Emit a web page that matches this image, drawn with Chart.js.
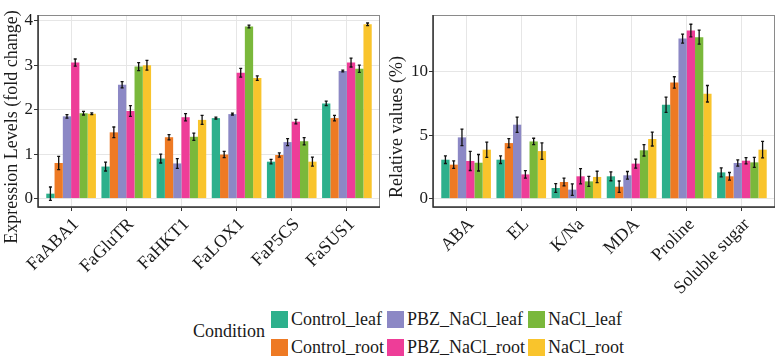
<!DOCTYPE html>
<html>
<head>
<meta charset="utf-8">
<script src="https://cdn.jsdelivr.net/npm/chart.js@4"></script>
<style>
  body { margin: 0; background: #fff; width: 777px; height: 358px; position: relative; overflow: hidden; font-family: "Liberation Serif", "DejaVu Serif", serif; }
  #leftWrap { position: absolute; left: 0; top: 0; }
  #rightWrap { position: absolute; left: 385px; top: 0; }
  #condTitle { position: absolute; left: 193px; top: 321px; font-size: 18px; color: #1a1a1a; }
  #legend { position: absolute; left: 271px; top: 311px; display: grid; grid-template-rows: 17px 17px; grid-auto-flow: column; row-gap: 11px; column-gap: 3px; }
  .item { display: flex; align-items: center; font-size: 18px; color: #1a1a1a; white-space: nowrap; }
  .box { width: 17px; height: 17px; margin-right: 3px; }
</style>
</head>
<body>
<div id="leftWrap"><canvas id="geneChart" width="385" height="300"></canvas></div>
<div id="rightWrap"><canvas id="physChart" width="392" height="300"></canvas></div>
<div id="condTitle">Condition</div>
<div id="legend"></div>
<script>
// conditions, in bar order
const conditions = ['Control_leaf', 'Control_root', 'PBZ_NaCl_leaf', 'PBZ_NaCl_root', 'NaCl_leaf', 'NaCl_root'];
const colors = ['#2db08c', '#ee7a24', '#8c88c5', '#ee3d98', '#7ab83b', '#f9c42c'];

// left panel: gene expression
const genes = ['FaABA1', 'FaGluTR', 'FaHKT1', 'FaLOX1', 'FaP5CS', 'FaSUS1'];
const geneTicks = [0, 1, 2, 3, 4];
const geneControlLeaf = [0.11, 0.72, 0.90, 1.81, 0.83, 2.14];
const geneControlRoot = [0.80, 1.49, 1.38, 0.99, 0.98, 1.81];
const genePbzLeaf = [1.85, 2.56, 0.79, 1.90, 1.27, 2.87];
const genePbzRoot = [3.06, 1.97, 1.83, 2.83, 1.73, 3.06];
const geneNaclLeaf = [1.92, 2.97, 1.39, 3.87, 1.29, 2.92];
const geneNaclRoot = [1.91, 3.00, 1.77, 2.71, 0.83, 3.92];
const geneControlLeafErr = [0.15, 0.10, 0.10, 0.02, 0.05, 0.05];
const geneControlRootErr = [0.15, 0.12, 0.06, 0.07, 0.05, 0.06];
const genePbzLeafErr = [0.04, 0.07, 0.11, 0.02, 0.08, 0.02];
const genePbzRootErr = [0.08, 0.12, 0.08, 0.10, 0.05, 0.10];
const geneNaclLeafErr = [0.04, 0.09, 0.08, 0.03, 0.08, 0.08];
const geneNaclRootErr = [0.02, 0.11, 0.10, 0.05, 0.10, 0.03];

// right panel: physiological traits
const traits = ['ABA', 'EL', 'K/Na', 'MDA', 'Proline', 'Soluble sugar'];
const traitTicks = [0, 5, 10];
const traitControlLeaf = [3.07, 3.07, 0.84, 1.76, 7.40, 2.07];
const traitControlRoot = [2.68, 4.38, 1.31, 0.94, 9.16, 1.76];
const traitPbzLeaf = [4.83, 5.83, 0.71, 1.84, 12.62, 2.81];
const traitPbzRoot = [2.97, 1.91, 1.76, 2.76, 13.25, 2.99];
const traitNaclLeaf = [2.83, 4.51, 1.36, 3.81, 12.73, 2.86];
const traitNaclRoot = [3.86, 3.75, 1.71, 4.70, 8.27, 3.86];
const traitControlLeafErr = [0.30, 0.30, 0.35, 0.35, 0.60, 0.35];
const traitControlRootErr = [0.30, 0.35, 0.30, 0.45, 0.45, 0.30];
const traitPbzLeafErr = [0.65, 0.60, 0.45, 0.30, 0.35, 0.25];
const traitPbzRootErr = [0.75, 0.30, 0.60, 0.35, 0.50, 0.25];
const traitNaclLeafErr = [0.65, 0.25, 0.40, 0.45, 0.55, 0.40];
const traitNaclRootErr = [0.60, 0.65, 0.45, 0.55, 0.65, 0.65];

const FONT = '"Liberation Serif", "DejaVu Serif", serif';

// error bars drawn from the y scale
const errorBars = {
    id: 'errorBars',
    afterDatasetsDraw(chart) {
        const ctx = chart.ctx;
        const y = chart.scales.y;
        ctx.save();
        ctx.strokeStyle = '#111';
        ctx.lineWidth = 1.3;
        chart.data.datasets.forEach((ds, di) => {
            const meta = chart.getDatasetMeta(di);
            meta.data.forEach((bar, i) => {
                const v = ds.data[i].y;
                const e = ds.errors[i];
                const top = y.getPixelForValue(v + e);
                const bot = y.getPixelForValue(v - e);
                ctx.beginPath();
                ctx.moveTo(bar.x, top);
                ctx.lineTo(bar.x, bot);
                ctx.moveTo(bar.x - 1.5, top);
                ctx.lineTo(bar.x + 1.5, top);
                ctx.moveTo(bar.x - 1.5, bot);
                ctx.lineTo(bar.x + 1.5, bot);
                ctx.stroke();
            });
        });
        ctx.restore();
    }
};

// panel frame + rotated y title
const panelFrame = {
    id: 'panelFrame',
    afterDraw(chart, args, opts) {
        const { ctx, chartArea: a } = chart;
        ctx.save();
        ctx.strokeStyle = '#8a8a8a';
        ctx.lineWidth = 1;
        ctx.strokeRect(a.left + 0.5, a.top + 0.5, a.right - a.left - 1, a.bottom - a.top);
        ctx.strokeStyle = '#333';
        ctx.lineWidth = 1.5;
        ctx.beginPath();
        ctx.moveTo(a.left, a.top);
        ctx.lineTo(a.left, a.bottom);
        ctx.lineTo(a.right, a.bottom);
        ctx.stroke();
        ctx.translate(12, (a.top + a.bottom) / 2 + 16);
        ctx.rotate(-Math.PI / 2);
        ctx.fillStyle = '#1a1a1a';
        ctx.font = '18px ' + FONT;
        ctx.textAlign = 'center';
        ctx.textBaseline = 'middle';
        ctx.fillText(opts.text, 0, 0);
        ctx.restore();
    }
};

function makeChart(canvasId, cats, ticks, series, errors, yMin, yMax, axisWidth, rightPad, title) {
    const datasets = series.map((vals, k) => ({
        label: conditions[k],
        data: vals.map((v, i) => ({ x: i, y: v })),
        errors: errors[k],
        backgroundColor: colors[k],
        borderWidth: 0,
        categoryPercentage: 0.9,
        barPercentage: 1.0
    }));
    return new Chart(document.getElementById(canvasId), {
        type: 'bar',
        data: { datasets },
        options: {
            responsive: false,
            animation: false,
            layout: { padding: { top: 15, right: rightPad, left: 0, bottom: 0 } },
            plugins: {
                legend: { display: false },
                tooltip: { enabled: false },
                panelFrame: { text: title }
            },
            scales: {
                x: {
                    type: 'linear',
                    min: -0.6,
                    max: cats.length - 0.4,
                    offset: false,
                    grid: { offset: false, color: '#e6e6e6', tickColor: '#333', tickLength: 4 },
                    border: { display: false },
                    afterBuildTicks: (s) => { s.ticks = cats.map((c, i) => ({ value: i })); },
                    afterFit: (s) => { s.height = 300 - 207; },
                    ticks: {
                        autoSkip: false,
                        minRotation: 45,
                        maxRotation: 45,
                        padding: 3,
                        labelOffset: 5,
                        color: '#1a1a1a',
                        font: { family: FONT, size: 18 },
                        callback: (v) => cats[v]
                    }
                },
                y: {
                    min: yMin,
                    max: yMax,
                    grid: { color: '#e6e6e6', tickColor: '#333', tickLength: 4 },
                    border: { display: false },
                    afterBuildTicks: (s) => { s.ticks = ticks.map(v => ({ value: v })); },
                    afterFit: (s) => { s.width = axisWidth; },
                    ticks: {
                        padding: 1,
                        color: '#1a1a1a',
                        font: { family: FONT, size: 17 },
                        callback: (v) => String(v)
                    }
                }
            }
        },
        plugins: [errorBars, panelFrame]
    });
}

makeChart('geneChart', genes, geneTicks,
    [geneControlLeaf, geneControlRoot, genePbzLeaf, genePbzRoot, geneNaclLeaf, geneNaclRoot],
    [geneControlLeafErr, geneControlRootErr, genePbzLeafErr, genePbzRootErr, geneNaclLeafErr, geneNaclRootErr],
    -0.19, 4.13, 38, 5, 'Expression Levels (fold change)');

makeChart('physChart', traits, traitTicks,
    [traitControlLeaf, traitControlRoot, traitPbzLeaf, traitPbzRoot, traitNaclLeaf, traitNaclRoot],
    [traitControlLeafErr, traitControlRootErr, traitPbzLeafErr, traitPbzRootErr, traitNaclLeafErr, traitNaclRootErr],
    -0.66, 14.48, 48, 2, 'Relative values (%)');

// legend: 3 columns x 2 rows, filled column by column
const legend = document.getElementById('legend');
conditions.forEach((name, k) => {
    const item = document.createElement('div');
    item.className = 'item';
    const box = document.createElement('span');
    box.className = 'box';
    box.style.background = colors[k];
    item.appendChild(box);
    item.appendChild(document.createTextNode(name));
    legend.appendChild(item);
});
</script>
</body>
</html>
